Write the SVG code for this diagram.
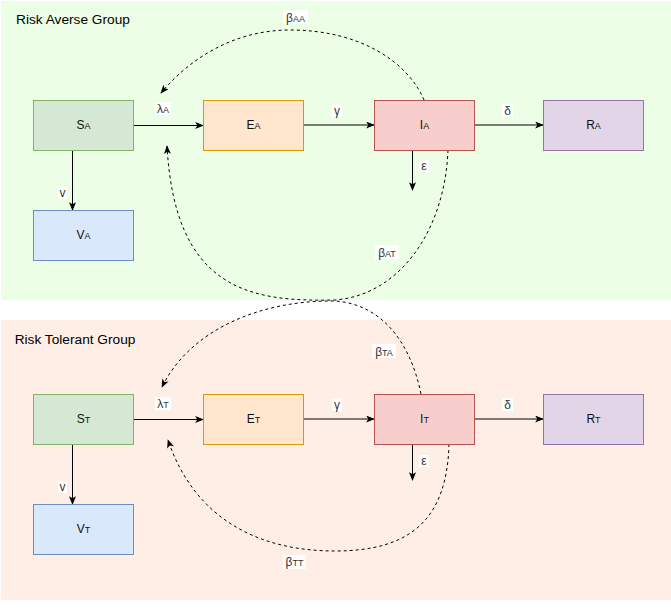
<svg xmlns="http://www.w3.org/2000/svg" width="671" height="609" viewBox="0 0 671 609">
<defs>
<style>
text{font-family:"Liberation Sans",Arial,Helvetica,sans-serif;}
.grp{font-size:13.7px;fill:#000;}
.nl{font-size:12px;fill:#111;text-anchor:middle;}
.el{font-size:12px;fill:#333;text-anchor:middle;}
.sb{font-size:9px;}
.lbg{fill:#fff;}
.S{fill:#d5e8d4;stroke:#82b366;}
.E{fill:#ffe6cc;stroke:#d79b00;}
.I{fill:#f8cecc;stroke:#b85450;}
.R{fill:#e1d5e7;stroke:#9673a6;}
.V{fill:#dae8fc;stroke:#6c8ebf;}
.ln{fill:none;stroke:#000;stroke-width:1;marker-end:url(#ah);}
.ds{fill:none;stroke:#000;stroke-width:1;stroke-dasharray:3 3;marker-end:url(#ah);}
</style>
<marker id="ah" viewBox="0 0 10 8" refX="9" refY="4" markerWidth="9" markerHeight="7" markerUnits="userSpaceOnUse" orient="auto">
<path d="M0,0 L10,4 L0,8 L2.5,4 Z" fill="#000"/>
</marker>
</defs>

<g id="groupA">
<rect x="1" y="1" width="670" height="299" fill="#edfee6"/>
<text class="grp" x="16" y="23.5">Risk Averse Group</text>
</g>
<g id="groupT">
<rect x="1" y="320" width="670" height="280" fill="#ffeee6"/>
<text class="grp" x="14.7" y="344">Risk Tolerant Group</text>
</g>

<g id="connectors">
<path class="ln" d="M133.5,125.5 L203,125.5"/>
<path class="ln" d="M303.5,125 L374,125"/>
<path class="ln" d="M474.5,125 L543,125"/>
<path class="ln" d="M72.5,150.5 L72.5,210"/>
<path class="ln" d="M412.5,150.5 L412.5,190"/>
<path class="ln" d="M133.5,419.5 L203,419.5"/>
<path class="ln" d="M303.5,419 L374,419"/>
<path class="ln" d="M474.5,419 L543,419"/>
<path class="ln" d="M72.5,444.5 L72.5,504"/>
<path class="ln" d="M412.5,444.5 L412.5,480"/>
<path class="ds" d="M424,100 C408,62 360,30 290,30 C235,30 190,58 161,93"/>
<path class="ds" d="M448,150 C445,230 400,295 335,300 C250,302 175,290 167,146"/>
<path class="ds" d="M421,394 C410,340 380,304 335,301 C260,300 190,330 162,387"/>
<path class="ds" d="M449,444 C447,520 410,551 335,551 C260,551 195,520 168,440"/>

<rect class="lbg" x="155" y="102.5" width="16" height="12"/>
<text class="el" x="163" y="113">λ<tspan class="sb">A</tspan></text>
<rect class="lbg" x="332" y="104" width="10" height="13"/>
<text class="el" x="337" y="115">γ</text>
<rect class="lbg" x="502" y="104" width="11" height="13"/>
<text class="el" x="507.5" y="114.5">δ</text>
<rect class="lbg" x="58" y="187" width="9" height="12"/>
<text class="el" x="62.5" y="197">v</text>
<rect class="lbg" x="419" y="160" width="10" height="12"/>
<text class="el" x="424" y="170">ε</text>
<rect class="lbg" x="283" y="10" width="25" height="14"/>
<text class="el" x="295.5" y="21.5">β<tspan class="sb">AA</tspan></text>
<rect class="lbg" x="375" y="245" width="24" height="14"/>
<text class="el" x="387" y="256.5">β<tspan class="sb">AT</tspan></text>

<rect class="lbg" x="155" y="397" width="16" height="13"/>
<text class="el" x="163" y="408">λ<tspan class="sb">T</tspan></text>
<rect class="lbg" x="332" y="398" width="10" height="13"/>
<text class="el" x="337" y="409">γ</text>
<rect class="lbg" x="502" y="398" width="11" height="13"/>
<text class="el" x="507.5" y="408.5">δ</text>
<rect class="lbg" x="58" y="481" width="9" height="12"/>
<text class="el" x="62.5" y="491">v</text>
<rect class="lbg" x="419" y="455" width="10" height="12"/>
<text class="el" x="424" y="465">ε</text>
<rect class="lbg" x="372" y="344" width="24" height="14"/>
<text class="el" x="384" y="355.5">β<tspan class="sb">TA</tspan></text>
<rect class="lbg" x="283" y="555" width="23" height="14"/>
<text class="el" x="294.5" y="566">β<tspan class="sb">TT</tspan></text>
</g>

<g id="SA"><rect class="S" x="33.5" y="100.5" width="100" height="50"/><text class="nl" x="83.5" y="129">S<tspan class="sb">A</tspan></text></g>
<g id="EA"><rect class="E" x="203.5" y="100.5" width="100" height="50"/><text class="nl" x="253.5" y="129">E<tspan class="sb">A</tspan></text></g>
<g id="IA"><rect class="I" x="374.5" y="100.5" width="100" height="50"/><text class="nl" x="424.5" y="129">I<tspan class="sb">A</tspan></text></g>
<g id="RA"><rect class="R" x="543.5" y="100.5" width="100" height="50"/><text class="nl" x="593.5" y="129">R<tspan class="sb">A</tspan></text></g>
<g id="VA"><rect class="V" x="33.5" y="210.5" width="100" height="50"/><text class="nl" x="83.5" y="239">V<tspan class="sb">A</tspan></text></g>

<g id="ST"><rect class="S" x="33.5" y="394.5" width="100" height="50"/><text class="nl" x="83.5" y="423">S<tspan class="sb">T</tspan></text></g>
<g id="ET"><rect class="E" x="203.5" y="394.5" width="100" height="50"/><text class="nl" x="253.5" y="423">E<tspan class="sb">T</tspan></text></g>
<g id="IT"><rect class="I" x="374.5" y="394.5" width="100" height="50"/><text class="nl" x="424.5" y="423">I<tspan class="sb">T</tspan></text></g>
<g id="RT"><rect class="R" x="543.5" y="394.5" width="100" height="50"/><text class="nl" x="593.5" y="423">R<tspan class="sb">T</tspan></text></g>
<g id="VT"><rect class="V" x="33.5" y="504.5" width="100" height="50"/><text class="nl" x="83.5" y="533">V<tspan class="sb">T</tspan></text></g>
</svg>
